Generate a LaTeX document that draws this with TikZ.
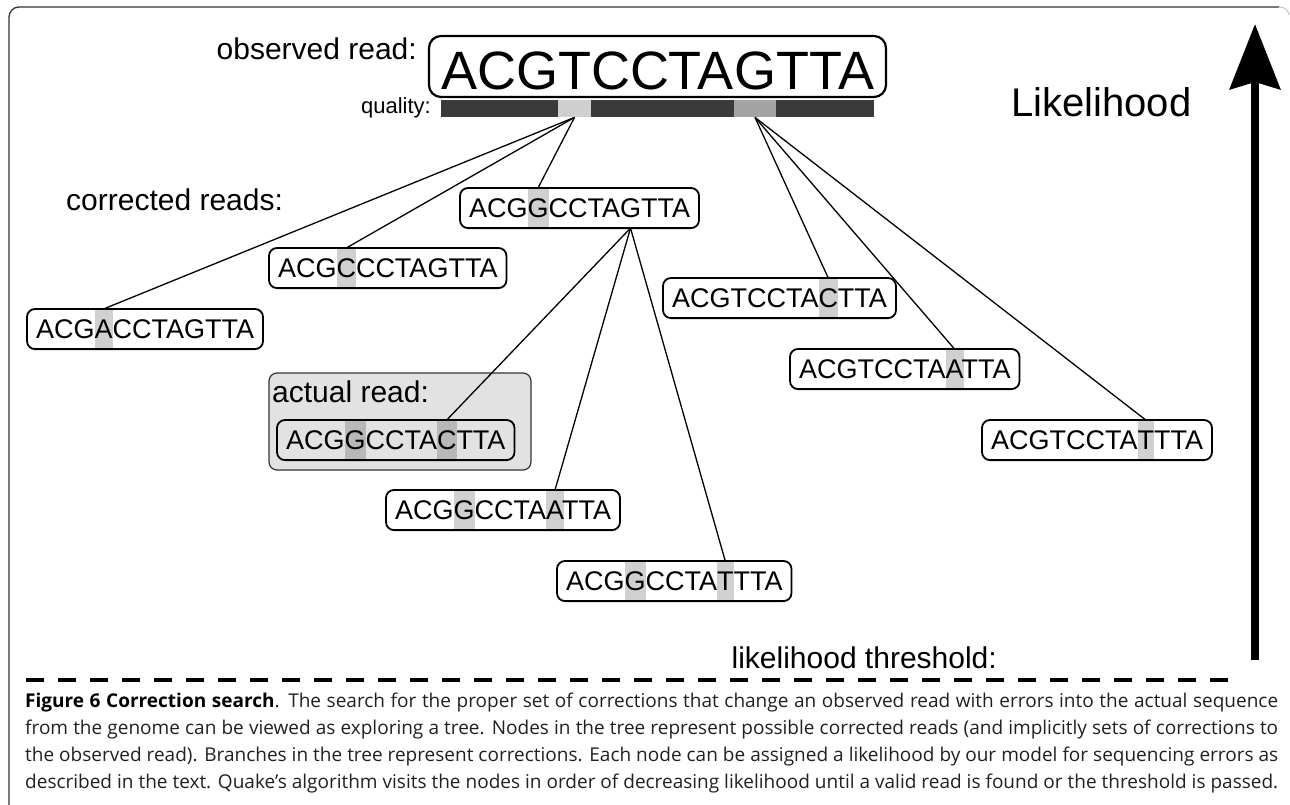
\documentclass[tikz,border=0pt]{standalone}
\usepackage{fontspec}
\setmainfont{Liberation Sans}
\newfontfamily\capfont{Open Sans}
\usetikzlibrary{arrows.meta}
\definecolor{hlgray}{HTML}{D0D0D0}
\definecolor{hldark}{HTML}{B8B8B8}
\definecolor{qdark}{HTML}{3A3A3A}
\definecolor{qlight}{HTML}{CFCFCF}
\definecolor{qmid}{HTML}{A3A3A3}
\definecolor{actfill}{HTML}{E2E2E2}
\definecolor{framegray}{HTML}{333333}
\definecolor{captext}{HTML}{231F20}
\newdimen\wpre
\newdimen\wlet
\newcommand\rdfont{\fontsize{27pt}{30pt}\selectfont}
\newcommand\obsfont{\fontsize{54pt}{60pt}\selectfont}
\newcommand\hl[2][hlgray]{\settowidth\wlet{#2}\rlap{\textcolor{#1}{\rule[-9.5pt]{\wlet}{38.3pt}}}#2}
\newcommand\qpart[2]{\settowidth\wpre{#2}\textcolor{#1}{\rule{\wpre}{17pt}}}
\newcommand\hlpoint[6][9pt]{\pgfinterruptpicture\settowidth\wpre{#2#3}\settowidth\wlet{#2#4}%
  \xdef\hlshift{\the\dimexpr #1+\wpre+\wlet/2\relax}\endpgfinterruptpicture
  \coordinate (#6) at ([xshift=\hlshift]#5);}
\tikzset{
  read/.style={draw, line width=1.8pt, rounded corners=8pt, inner xsep=9pt, inner ysep=10.4pt,
    text height=19.3pt, text depth=0pt, outer sep=0pt, anchor=north west, font=\rdfont},
  obsread/.style={draw, line width=2.2pt, rounded corners=12pt, inner xsep=12pt, inner ysep=7pt,
    text height=47pt, text depth=0pt, outer sep=0pt, anchor=north west, font=\obsfont},
  actbox/.style={draw=framegray, line width=1.2pt, rounded corners=8pt, fill=actfill,
    inner sep=0pt, outer sep=0pt, anchor=north west},
  txt/.style={inner sep=0pt, font=\fontsize{30pt}{36pt}\selectfont},
  branch/.style={line width=1.3pt},
  likearrow/.style={line width=8.5pt, -{Stealth[length=65pt, width=50pt, inset=7pt]}},
  thresh/.style={line width=4pt, dash pattern=on 17.5pt off 14.5pt}
}
\begin{document}
\begin{tikzpicture}[x=1pt,y=-1pt]
  \useasboundingbox (0,0) rectangle (1290,805);
  \draw[framegray, line width=1.3pt, rounded corners=10pt] (9,805) -- (9,7) -- (1279,7);
  \draw[gray!45, line width=1pt] (1279,7) .. controls (1285,7) and (1288,10) .. (1289,15);

  \node[obsread] (obs) at (429,36) {ACGTCCTAGTTA};
  \node[anchor=north west, inner sep=0pt, font=\obsfont] (qbar) at (441,100)
    {\qpart{qdark}{ACG}\qpart{qlight}{T}\qpart{qdark}{CCTA}\qpart{qmid}{G}\qpart{qdark}{TTA}};
  \node[txt, anchor=base east] (obslbl) at (417,60) {observed read:};
  \node[anchor=base east, inner sep=0pt, font=\fontsize{22pt}{26pt}\selectfont] (quallbl) at (431,114) {quality:};
  \node[txt, anchor=base west] (corrlbl) at (66,211) {corrected reads:};
  \node[anchor=base west, inner sep=0pt, font=\fontsize{40pt}{48pt}\selectfont] (likelbl) at (1011,117) {Likelihood};

  \node[read] (cA) at (27,309) {ACG\hl{A}CCTAGTTA};
  \node[read] (cC) at (269,248) {ACG\hl{C}CCTAGTTA};
  \node[read] (cG) at (460,188) {ACG\hl{G}CCTAGTTA};
  \node[read] (tC) at (663,278) {ACGTCCTA\hl{C}TTA};
  \node[read] (tA) at (790,349) {ACGTCCTA\hl{A}TTA};
  \node[read] (tT) at (982,420) {ACGTCCTA\hl{T}TTA};
  \node[actbox, minimum width=262pt, minimum height=97pt] (act) at (269,373) {};
  \node[txt, anchor=base west] (actlbl) at (272,402) {actual read:};
  \node[read, fill=actfill] (gC) at (277,420) {ACG\hl[hldark]{G}CCTA\hl[hldark]{C}TTA};
  \node[read] (gA) at (386,490) {ACG\hl{G}CCTA\hl{A}TTA};
  \node[read] (gT) at (557,561) {ACG\hl{G}CCTA\hl{T}TTA};

  \hlpoint[0pt]{\obsfont}{ACG}{T}{qbar.south west}{qT}
  \hlpoint[0pt]{\obsfont}{ACGTCCTA}{G}{qbar.south west}{qG}
  \hlpoint{\rdfont}{ACG}{A}{cA.north west}{cA-in}
  \hlpoint{\rdfont}{ACG}{C}{cC.north west}{cC-in}
  \hlpoint{\rdfont}{ACG}{G}{cG.north west}{cG-in}
  \hlpoint{\rdfont}{ACGGCCTA}{G}{cG.south west}{cG-out}
  \hlpoint{\rdfont}{ACGGCCTA}{C}{gC.north west}{gC-in}
  \hlpoint{\rdfont}{ACGGCCTA}{A}{gA.north west}{gA-in}
  \hlpoint{\rdfont}{ACGGCCTA}{T}{gT.north west}{gT-in}
  \hlpoint{\rdfont}{ACGTCCTA}{C}{tC.north west}{tC-in}
  \hlpoint{\rdfont}{ACGTCCTA}{A}{tA.north west}{tA-in}
  \hlpoint{\rdfont}{ACGTCCTA}{T}{tT.north west}{tT-in}

  \foreach \n in {cA,cC,cG} \draw[branch] (qT) -- (\n-in);
  \foreach \n in {tC,tA,tT} \draw[branch] (qG) -- (\n-in);
  \foreach \n in {gC,gA,gT} \draw[branch] (cG-out) -- (\n-in);

  \coordinate (lbot) at (1255,660);
  \coordinate (ltop) at (1255,24);
  \draw[likearrow] (lbot) -- (ltop);

  \draw[thresh] (26,680) -- (1240,680);
  \node[txt, anchor=base east] (threshlbl) at (997,668) {likelihood threshold:};

  \node[anchor=base west, inner sep=0pt, font=\capfont\fontsize{19pt}{27pt}\selectfont, text=captext] (cap) at (25,788)
    {\vbox{%
      \hbox to 1253pt{\textcolor{black}{\textbf{Figure 6 Correction search}}. The search for the proper set of corrections that change an observed read with errors into the actual sequence}
      \hbox to 1253pt{from the genome can be viewed as exploring a tree. Nodes in the tree represent possible corrected reads (and implicitly sets of corrections to}
      \hbox to 1253pt{the observed read). Branches in the tree represent corrections. Each node can be assigned a likelihood by our model for sequencing errors as}
      \hbox to 1253pt{described in the text. Quake’s algorithm visits the nodes in order of decreasing likelihood until a valid read is found or the threshold is passed.}}};
\end{tikzpicture}
\end{document}
